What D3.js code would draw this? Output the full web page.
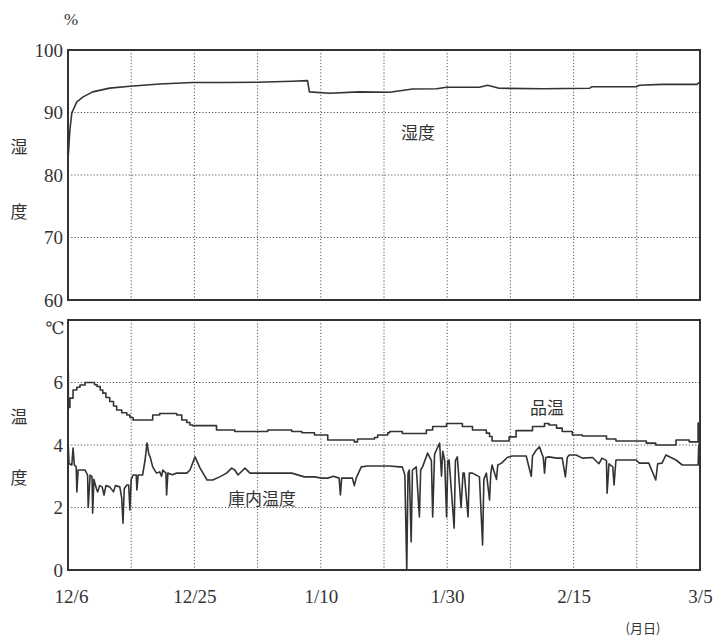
<!DOCTYPE html>
<html>
<head>
<meta charset="utf-8">
<script src="https://cdn.jsdelivr.net/npm/d3@7"></script>
<style>
body{margin:0;background:#fff;}
</style>
</head>
<body>
<div id="chart"></div>
<script>
// x position is measured in chart divisions (10 divisions from 12/6 to 3/5)
var dateLabels = ["12/6","12/25","1/10","1/30","2/15","3/5"]
var dateTicks = [0,2,4,6,8,10]
var humTicks = [60,70,80,90,100]
var tempTicks = [0,2,4,6]

var humidity = [[0,82.4],[0.03,87.2],[0.06,89.9],[0.08,90.4],[0.14,91.7],[0.24,92.5],[0.39,93.3],[0.66,93.9],[0.98,94.2],[1.45,94.56],[1.97,94.8],[2.5,94.8],[3.0,94.85],[3.55,95.0],[3.79,95.1],[3.82,93.3],[4.14,93.07],[4.61,93.3],[5.09,93.23],[5.45,93.76],[5.83,93.8],[5.99,94.03],[6.51,94.03],[6.64,94.35],[6.82,93.87],[7.5,93.8],[8.25,93.87],[8.29,94.13],[8.99,94.13],[9.04,94.35],[9.40,94.5],[9.95,94.5],[10,94.9]]

var productTemp = [[0,6.3],[0.005,5.2],[0.03,5.5],[0.08,5.76],[0.14,5.85],[0.19,5.92],[0.27,6.0],[0.42,5.93],[0.46,5.87],[0.51,5.76],[0.55,5.66],[0.6,5.52],[0.66,5.39],[0.72,5.25],[0.77,5.12],[0.85,5.03],[0.93,4.96],[0.98,4.88],[1.03,4.8],[1.30,4.8],[1.34,4.96],[1.45,5.01],[1.72,4.96],[1.80,4.8],[1.88,4.72],[1.93,4.64],[1.97,4.62],[2.35,4.48],[2.64,4.43],[3.16,4.48],[3.54,4.43],[3.70,4.39],[3.90,4.32],[4.11,4.16],[4.53,4.1],[4.58,4.19],[4.85,4.24],[4.90,4.32],[5.06,4.39],[5.09,4.43],[5.29,4.37],[5.67,4.48],[5.77,4.59],[5.99,4.69],[6.24,4.59],[6.40,4.48],[6.62,4.38],[6.67,4.27],[6.71,4.13],[6.98,4.26],[7.09,4.46],[7.35,4.59],[7.54,4.69],[7.61,4.64],[7.73,4.54],[7.82,4.43],[7.98,4.32],[8.14,4.29],[8.52,4.19],[8.67,4.13],[9.15,4.06],[9.30,4.0],[9.62,4.16],[9.83,4.1],[9.97,4.7],[9.99,4.05],[10,4.05]]

var roomTemp = [[0,4.2],[0.016,3.4],[0.06,3.36],[0.08,3.9],[0.1,3.36],[0.13,3.3],[0.14,2.5],[0.16,3.2],[0.22,3.2],[0.27,3.2],[0.31,3.04],[0.32,2.0],[0.35,3.04],[0.38,2.98],[0.39,1.82],[0.41,2.9],[0.45,2.6],[0.47,2.5],[0.5,2.7],[0.54,2.66],[0.57,2.4],[0.6,2.7],[0.66,2.66],[0.72,2.5],[0.75,2.7],[0.82,2.66],[0.85,2.3],[0.87,1.5],[0.89,2.6],[0.93,2.72],[0.96,2.72],[0.98,1.92],[1.0,2.9],[1.03,3.04],[1.08,3.04],[1.09,2.56],[1.11,3.04],[1.18,3.04],[1.22,3.52],[1.25,4.06],[1.28,3.7],[1.30,3.62],[1.34,3.3],[1.40,3.1],[1.45,3.14],[1.48,3.0],[1.5,3.2],[1.55,3.1],[1.56,2.4],[1.58,3.1],[1.65,3.05],[1.72,3.1],[1.88,3.1],[1.93,3.2],[2.01,3.62],[2.09,3.26],[2.2,2.88],[2.29,2.88],[2.40,2.98],[2.51,3.1],[2.59,3.26],[2.64,3.2],[2.69,3.04],[2.80,3.26],[2.88,3.1],[3.54,3.1],[3.74,2.98],[3.9,2.98],[4.01,2.94],[4.11,2.94],[4.2,3.0],[4.29,2.94],[4.31,2.4],[4.33,2.94],[4.5,2.94],[4.53,2.7],[4.56,2.94],[4.64,3.3],[4.74,3.33],[5.09,3.33],[5.24,3.3],[5.29,3.3],[5.33,3.04],[5.36,0],[5.38,3.1],[5.40,3.2],[5.43,0.9],[5.45,3.2],[5.51,3.3],[5.56,1.7],[5.58,3.2],[5.61,3.3],[5.69,3.74],[5.75,3.5],[5.77,1.7],[5.8,3.7],[5.83,3.84],[5.88,4.06],[5.91,3.0],[5.93,3.8],[5.96,3.5],[5.99,1.7],[6.01,3.5],[6.03,3.52],[6.11,1.34],[6.13,3.5],[6.16,3.62],[6.22,2.0],[6.25,3.1],[6.27,3.1],[6.33,1.7],[6.35,3.1],[6.40,3.1],[6.51,2.98],[6.56,0.8],[6.58,2.9],[6.62,3.1],[6.67,2.24],[6.69,3.1],[6.71,3.36],[6.78,2.9],[6.8,3.36],[6.86,3.42],[6.95,3.6],[7.03,3.65],[7.25,3.65],[7.33,3.0],[7.35,3.65],[7.41,3.84],[7.46,3.94],[7.52,3.6],[7.54,3.1],[7.56,3.6],[7.61,3.62],[7.73,3.58],[7.82,3.58],[7.87,2.98],[7.9,3.6],[7.93,3.68],[8.04,3.68],[8.14,3.58],[8.3,3.6],[8.4,3.4],[8.45,3.58],[8.52,3.5],[8.53,2.46],[8.56,3.4],[8.62,3.3],[8.64,2.72],[8.67,3.52],[8.99,3.52],[9.04,3.42],[9.19,3.42],[9.30,2.88],[9.33,3.4],[9.40,3.42],[9.46,3.68],[9.62,3.52],[9.72,3.36],[9.97,3.36],[9.98,4.0],[10,3.1]]

var serif = '"Liberation Serif","DejaVu Serif",serif'
var jp = '"Noto Sans CJK JP",sans-serif'

var svg = d3.select("#chart")
.append("svg")
.attr("width",717)
.attr("height",639)

var xScale = d3.scaleLinear().domain([0,10]).range([68,700])
var yHum = d3.scaleLinear().domain([60,100]).range([300,50])
var yTemp = d3.scaleLinear().domain([0,8]).range([570,320])

function panel(yScale,hTicks,yTickVals){
    // dotted grid
    svg.append("g").selectAll("line")
    .data(d3.range(1,10))
    .enter().append("line")
    .attr("x1",function(d){return xScale(d)})
    .attr("x2",function(d){return xScale(d)})
    .attr("y1",yScale.range()[1])
    .attr("y2",yScale.range()[0])
    .attr("stroke","#555")
    .attr("stroke-width",1)
    .attr("stroke-dasharray","1.2,2");

    svg.append("g").selectAll("line")
    .data(hTicks)
    .enter().append("line")
    .attr("x1",xScale(0))
    .attr("x2",xScale(10))
    .attr("y1",function(d){return yScale(d)})
    .attr("y2",function(d){return yScale(d)})
    .attr("stroke","#555")
    .attr("stroke-width",1)
    .attr("stroke-dasharray","1.2,2");

    // frame
    svg.append("rect")
    .attr("x",xScale(0))
    .attr("y",yScale.range()[1])
    .attr("width",xScale(10)-xScale(0))
    .attr("height",yScale.range()[0]-yScale.range()[1])
    .attr("fill","none")
    .attr("stroke","#333")
    .attr("stroke-width",2);

    var yAxis = d3.axisLeft(yScale).tickValues(yTickVals).tickSize(0).tickPadding(5)
    var g = svg.append("g").attr("transform","translate("+xScale(0)+",0)").call(yAxis)
    g.select(".domain").remove()
    g.selectAll("text").style("font-family",serif).style("font-size","19px").style("fill","#333")
}

panel(yHum,[70,80,90],humTicks)
panel(yTemp,[2,4,6],tempTicks)

function drawLine(data,yScale,curve){
    var line = d3.line()
    .x(function(d){return xScale(d[0])})
    .y(function(d){return yScale(d[1])})
    .curve(curve)
    svg.append("path")
    .datum(data)
    .attr("d",line)
    .attr("fill","none")
    .attr("stroke","#333")
    .attr("stroke-width",1.6)
    .attr("stroke-linejoin","round");
}

drawLine(humidity,yHum,d3.curveLinear)
drawLine(productTemp,yTemp,d3.curveStepAfter)
drawLine(roomTemp,yTemp,d3.curveLinear)

var xAxis = d3.axisBottom(xScale).tickValues(dateTicks)
.tickFormat(function(d,i){return dateLabels[i]}).tickSize(0).tickPadding(20)
var gx = svg.append("g").attr("transform","translate(0,570)").call(xAxis)
gx.select(".domain").remove()
gx.selectAll("text").style("font-family",serif).style("font-size","19px").style("fill","#333")
gx.selectAll(".tick").filter(function(d){return d==0}).select("text").attr("dx",3)

// unit and axis titles
function label(x,y,txt,font,size){
    svg.append("text").attr("x",x).attr("y",y).attr("text-anchor","middle")
    .style("font-family",font).style("font-size",size).style("fill","#333").text(txt)
}
label(71,25,"%",serif,"17px")
label(55,334,"℃",serif,"17px")
label(19,153,"湿",jp,"17px")
label(19,218,"度",jp,"17px")
label(19,423,"温",jp,"17px")
label(19,484,"度",jp,"17px")
label(418,139,"湿度",jp,"17px")
label(547,414,"品温",jp,"17px")
label(262,505,"庫内温度",jp,"17px")
label(643,633,"(月日)",jp,"13px")
</script>
</body>
</html>
